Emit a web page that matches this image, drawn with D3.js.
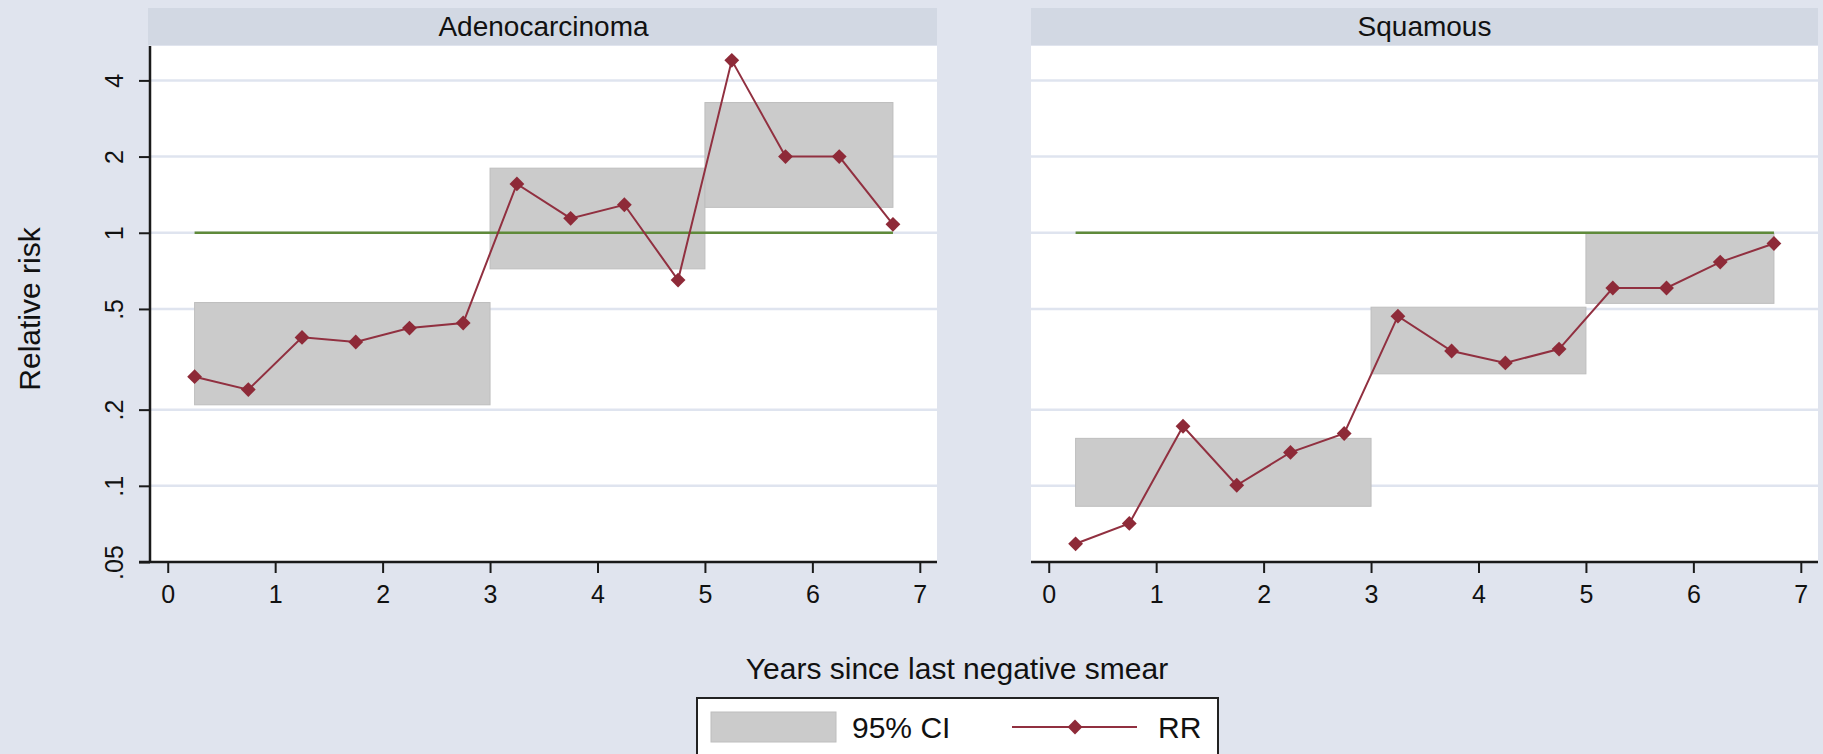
<!DOCTYPE html>
<html>
<head>
<meta charset="utf-8">
<script src="https://cdn.jsdelivr.net/npm/d3@7"></script>
<style>
  body { margin: 0; background: #e0e4ee; }
  svg { display: block; font-family: "Liberation Sans", Arial, sans-serif; }
</style>
</head>
<body>
<div id="chart"></div>
<script>
(function () {
    'use strict';

    // data
    var panelNames = ['Adenocarcinoma', 'Squamous'];
    var years = [0.25, 0.75, 1.25, 1.75, 2.25, 2.75, 3.25, 3.75, 4.25, 4.75, 5.25, 5.75, 6.25, 6.75];
    var adenoRR = [0.27, 0.24, 0.386, 0.37, 0.42, 0.44, 1.56, 1.14, 1.29, 0.65, 4.8, 2.0, 2.0, 1.08];
    var squamRR = [0.059, 0.071, 0.172, 0.1005, 0.1355, 0.161, 0.468, 0.341, 0.306, 0.347, 0.605, 0.605, 0.766, 0.907];
    var ciStart = [0.25, 3, 5];
    var ciEnd = [3, 5, 6.75];
    var adenoCILow = [0.209, 0.72, 1.26];
    var adenoCIHigh = [0.53, 1.80, 3.27];
    var squamCILow = [0.083, 0.277, 0.526];
    var squamCIHigh = [0.154, 0.508, 0.995];
    var refLine = [0.25, 6.75];
    var xTicks = [0, 1, 2, 3, 4, 5, 6, 7];
    var yTicks = [0.05, 0.1, 0.2, 0.5, 1, 2, 4];
    var yTickLabels = ['.05', '.1', '.2', '.5', '1', '2', '4'];

    var width = 1823, height = 754;
    var plotTop = 46, plotBottom = 562, plotW = 787;
    var panelLeft = [150, 1031];

    var svg = d3.select('#chart').append('svg')
        .attr('width', width)
        .attr('height', height);

    svg.append('rect').attr('width', width).attr('height', height).attr('fill', '#e0e4ee');

    var x = d3.scaleLinear().domain([-0.165, 7.16]).range([0, plotW]);
    var y = d3.scaleLog().domain([0.05, 5.47]).range([plotBottom, plotTop]);

    var panels = [
        { name: panelNames[0], rr: adenoRR, lo: adenoCILow, hi: adenoCIHigh },
        { name: panelNames[1], rr: squamRR, lo: squamCILow, hi: squamCIHigh }
    ];

    panels.forEach(function (p, pi) {
        var g = svg.append('g').attr('transform', 'translate(' + panelLeft[pi] + ',0)');

        // strip header
        g.append('rect')
            .attr('x', pi === 0 ? -2 : 0).attr('y', 8)
            .attr('width', plotW + (pi === 0 ? 2 : 0)).attr('height', 37)
            .attr('fill', '#d2d8e3');
        g.append('text')
            .attr('x', plotW / 2).attr('y', 36)
            .attr('text-anchor', 'middle')
            .attr('font-size', 28)
            .attr('fill', '#111')
            .text(p.name);

        // plot area
        g.append('rect')
            .attr('x', 0).attr('y', plotTop)
            .attr('width', plotW).attr('height', plotBottom - plotTop)
            .attr('fill', '#ffffff');

        g.selectAll('line.grid').data(yTicks.slice(1)).enter()
            .append('line')
            .attr('class', 'grid')
            .attr('x1', 0).attr('x2', plotW)
            .attr('y1', function (d) { return y(d); })
            .attr('y2', function (d) { return y(d); })
            .attr('stroke', '#dfe4ef')
            .attr('stroke-width', 2.5);

        // confidence bands
        g.selectAll('rect.ci').data(ciStart).enter()
            .append('rect')
            .attr('class', 'ci')
            .attr('x', function (d) { return x(d); })
            .attr('width', function (d, i) { return x(ciEnd[i]) - x(d); })
            .attr('y', function (d, i) { return y(p.hi[i]); })
            .attr('height', function (d, i) { return y(p.lo[i]) - y(p.hi[i]); })
            .attr('fill', '#cbcbcb')
            .attr('stroke', '#bebebe')
            .attr('stroke-width', 1);

        // reference line at 1
        g.append('line')
            .attr('x1', x(refLine[0])).attr('x2', x(refLine[1]))
            .attr('y1', y(1)).attr('y2', y(1))
            .attr('stroke', '#5f8a3a')
            .attr('stroke-width', 2.5);

        var line = d3.line()
            .x(function (d, i) { return x(years[i]); })
            .y(function (d) { return y(d); });
        g.append('path')
            .datum(p.rr)
            .attr('d', line)
            .attr('fill', 'none')
            .attr('stroke', '#913040')
            .attr('stroke-width', 2);

        var diamond = d3.symbol().type(d3.symbolDiamond2).size(140);
        g.selectAll('path.pt').data(p.rr).enter()
            .append('path')
            .attr('class', 'pt')
            .attr('d', diamond)
            .attr('transform', function (d, i) {
                return 'translate(' + x(years[i]) + ',' + y(d) + ')';
            })
            .attr('fill', '#8e2a38');

        // x axis
        var xAxis = g.append('g')
            .attr('transform', 'translate(0,' + plotBottom + ')')
            .call(d3.axisBottom(x).tickValues(xTicks).tickSize(11).tickPadding(12)
                .tickFormat(d3.format('d')));
        xAxis.select('.domain').attr('d', 'M' + (pi === 0 ? -11 : 0) + ',0H' + plotW)
            .attr('stroke', '#1a1a1a').attr('stroke-width', 2.5);
        xAxis.selectAll('.tick line').attr('stroke', '#1a1a1a').attr('stroke-width', 2);
        xAxis.selectAll('text').attr('font-size', 25).attr('fill', '#111')
            .attr('font-family', '"Liberation Sans", Arial, sans-serif');

        // y axis only on the left panel
        if (pi === 0) {
            var yAxis = g.append('g')
                .call(d3.axisLeft(y).tickValues(yTicks).tickSize(11)
                    .tickFormat(function (d, i) { return yTickLabels[i]; }));
            yAxis.select('.domain').attr('d', 'M0,' + plotTop + 'V' + plotBottom)
                .attr('stroke', '#1a1a1a').attr('stroke-width', 2.5);
            yAxis.selectAll('.tick line').attr('stroke', '#1a1a1a').attr('stroke-width', 2);
            yAxis.selectAll('text')
                .attr('transform', 'rotate(-90)')
                .attr('x', 0).attr('y', -27).attr('dy', 0)
                .attr('text-anchor', 'middle')
                .attr('font-size', 25).attr('fill', '#111')
                .attr('font-family', '"Liberation Sans", Arial, sans-serif');
        }
    });

    // axis titles
    svg.append('text')
        .attr('transform', 'translate(40,309) rotate(-90)')
        .attr('text-anchor', 'middle')
        .attr('font-size', 30)
        .attr('fill', '#111')
        .text('Relative risk');

    svg.append('text')
        .attr('x', 957).attr('y', 679)
        .attr('text-anchor', 'middle')
        .attr('font-size', 30)
        .attr('fill', '#111')
        .text('Years since last negative smear');

    // legend
    var leg = svg.append('g');
    leg.append('rect')
        .attr('x', 697).attr('y', 698).attr('width', 521).attr('height', 80)
        .attr('fill', '#ffffff').attr('stroke', '#222').attr('stroke-width', 2);
    leg.append('rect')
        .attr('x', 711).attr('y', 712).attr('width', 125).attr('height', 30)
        .attr('fill', '#cbcbcb').attr('stroke', '#bebebe').attr('stroke-width', 1);
    leg.append('text')
        .attr('x', 852).attr('y', 738)
        .attr('font-size', 30).attr('fill', '#111')
        .text('95% CI');
    leg.append('line')
        .attr('x1', 1012).attr('x2', 1137).attr('y1', 727).attr('y2', 727)
        .attr('stroke', '#913040').attr('stroke-width', 2);
    leg.append('path')
        .attr('d', d3.symbol().type(d3.symbolDiamond2).size(140))
        .attr('transform', 'translate(1075,727)')
        .attr('fill', '#8e2a38');
    leg.append('text')
        .attr('x', 1158).attr('y', 738)
        .attr('font-size', 30).attr('fill', '#111')
        .text('RR');
}());
</script>
</body>
</html>
